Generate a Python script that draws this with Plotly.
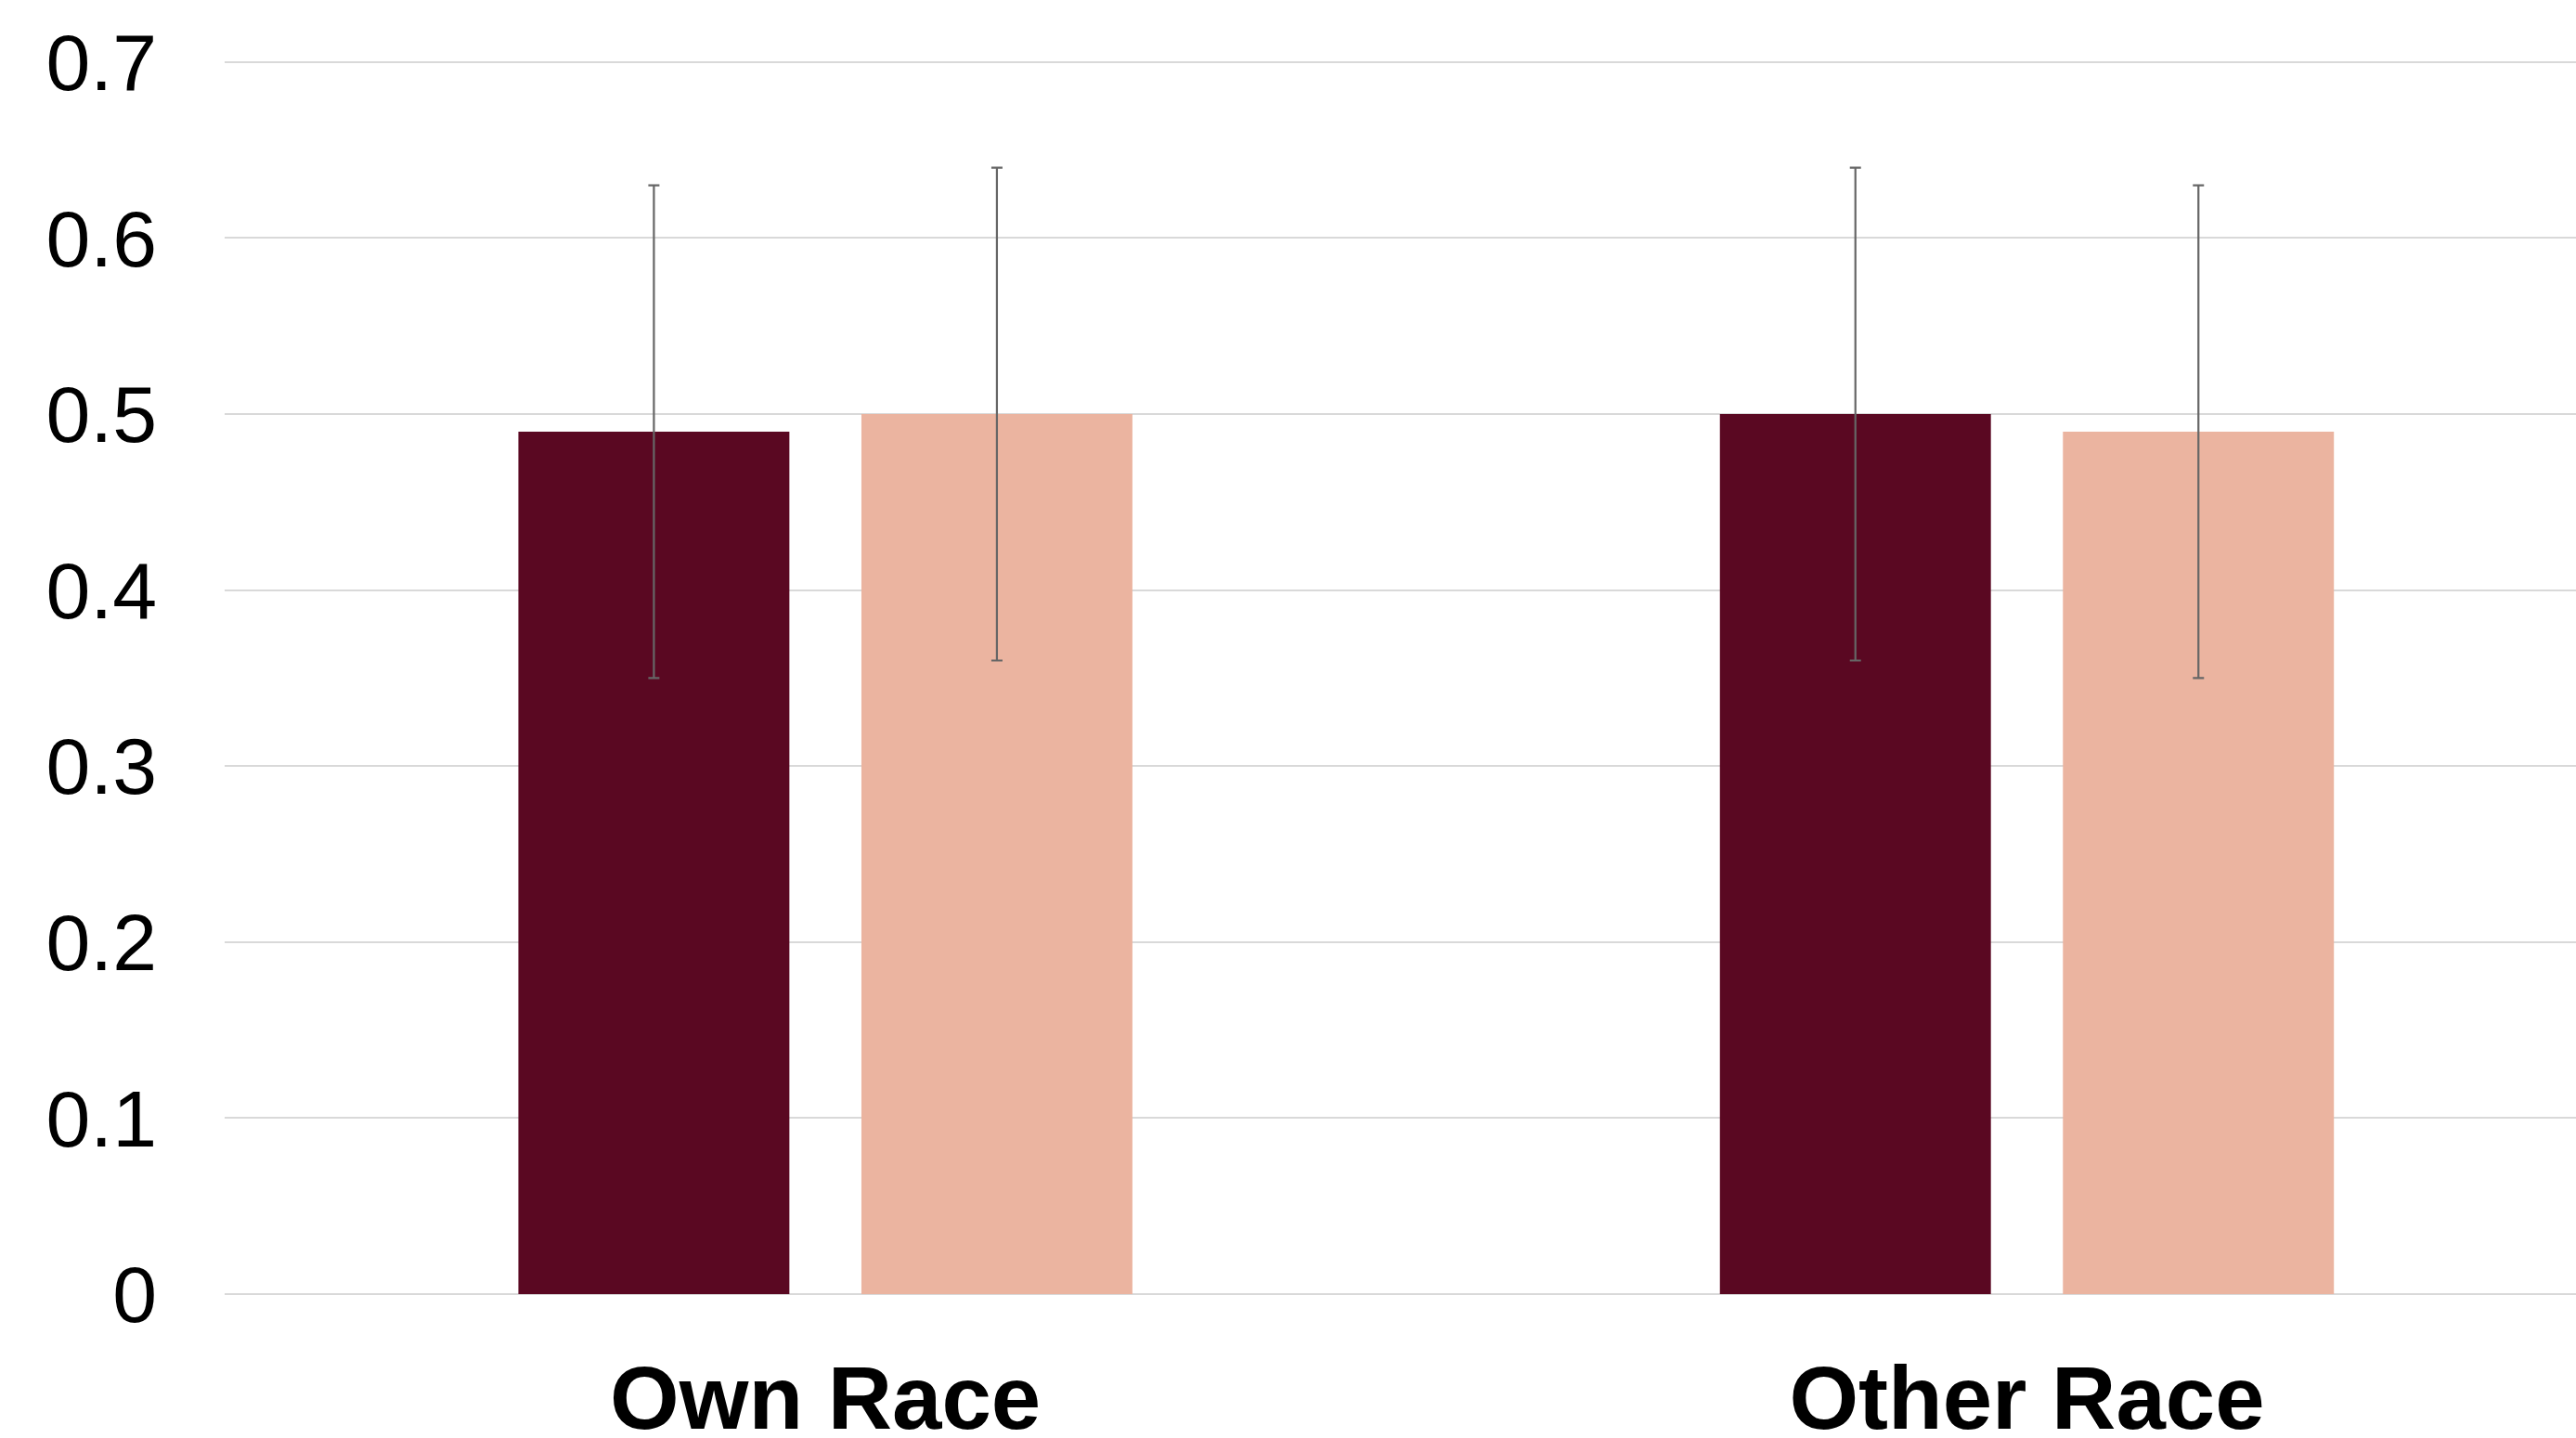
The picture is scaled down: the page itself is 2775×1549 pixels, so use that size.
import plotly.graph_objects as go

categories = ["Own Race", "Other Race"]
series_a = [0.49, 0.50]
series_b = [0.50, 0.49]
err_a = [0.14, 0.14]
err_b = [0.14, 0.14]
y_ticks = [0, 0.1, 0.2, 0.3, 0.4, 0.5, 0.6, 0.7]
y_tick_text = ["0", "0.1", "0.2", "0.3", "0.4", "0.5", "0.6", "0.7"]

FONT = "Arial, 'Liberation Sans', sans-serif"
err_style = dict(type="data", visible=True, color="#666666", thickness=2.2, width=6)

fig = go.Figure()
fig.add_trace(go.Bar(
    x=categories, y=series_a, marker=dict(color="#5A0822", line=dict(width=0)),
    error_y=dict(array=err_a, **err_style), showlegend=False))
fig.add_trace(go.Bar(
    x=categories, y=series_b, marker=dict(color="#EBB4A0", line=dict(width=0)),
    error_y=dict(array=err_b, **err_style), showlegend=False))

fig.update_layout(
    width=2775, height=1549,
    margin=dict(l=242, r=0, t=65, b=155, pad=0, autoexpand=False),
    paper_bgcolor="white", plot_bgcolor="white",
    barmode="group", bargap=0.429, bargroupgap=0.21,
    font=dict(family=FONT, color="black"),
)
fig.update_xaxes(
    type="category", range=[-0.5, 1.457], automargin=False,
    tickfont=dict(size=96, family=FONT, color="black", weight="bold"),
    showgrid=False, zeroline=False, showline=False, ticks="",
    ticklabelstandoff=48,
)
fig.update_yaxes(
    range=[0, 0.701], tickvals=y_ticks, ticktext=y_tick_text, automargin=False,
    tickfont=dict(size=86, family=FONT, color="black"),
    showgrid=True, gridcolor="#d9d9d9", gridwidth=2,
    zeroline=True, zerolinecolor="#d9d9d9", zerolinewidth=2,
    showline=False, ticks="", ticklabelstandoff=72,
)

fig.write_html("out.html")
